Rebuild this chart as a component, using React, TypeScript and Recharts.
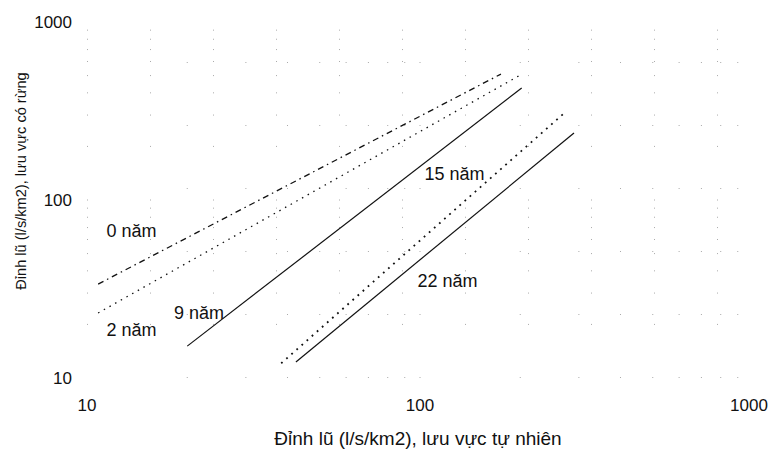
import { LineChart, Line, XAxis, YAxis, ReferenceLine, ReferenceDot, Label } from 'recharts';

// peak flow, natural catchment (x) vs forested catchment (y), log-log
const xTicks = [10, 100, 1000];
const yTicks = [10, 100, 1000];
const gridVals = [20, 30, 40, 50, 60, 70, 80, 90, 100, 200, 300, 400, 500, 600, 700, 800, 900];

const line0 = [{ x: 10.8, y: 33.7 }, { x: 175, y: 510 }];
const line2 = [{ x: 10.8, y: 23.2 }, { x: 198, y: 498 }];
const line9 = [{ x: 20, y: 15.1 }, { x: 202, y: 426 }];
const line15 = [{ x: 38.3, y: 12.1 }, { x: 269, y: 304 }];
const line22 = [{ x: 42.4, y: 12.3 }, { x: 290, y: 238 }];

const labelText = ['0 năm', '2 năm', '9 năm', '15 năm', '22 năm'];
const labelX = [13.6, 13.6, 21.7, 127, 121];
const labelY = [67.5, 18.6, 23.2, 140, 35.1];

const FONT = '"Liberation Sans", Arial, sans-serif';
const INK = '#111';

// last x tick sits right at the edge, nudge it in so it isn't clipped
const XTick = ({ x, y, payload }: any) => (
  <text
    x={payload.value === 1000 ? x - 4 : x}
    y={y}
    dy="0.71em"
    textAnchor="middle"
    fontSize={17}
    fill={INK}
    fontFamily={FONT}
  >
    {payload.value}
  </text>
);

export default function App() {
  return (
    <div style={{ width: 770, height: 453, background: '#fff', fontFamily: FONT }}>
      <style>{'body{margin:0}'}</style>
      <LineChart width={770} height={453} margin={{ top: 22, right: 17, bottom: 15, left: 27 }}>
        {gridVals.map((v) => (
          <ReferenceLine key={'gx' + v} x={v} stroke="#aaa" strokeDasharray="1 62" ifOverflow="hidden" />
        ))}
        {gridVals.map((v) => (
          <ReferenceLine key={'gy' + v} y={v} stroke="#aaa" strokeDasharray="1 62" ifOverflow="hidden" />
        ))}
        <XAxis
          dataKey="x"
          type="number"
          scale="log"
          domain={[10, 1000]}
          ticks={xTicks}
          allowDataOverflow
          axisLine={false}
          tickLine={false}
          tickSize={6}
          tickMargin={15}
          height={60}
          tick={<XTick />}
        >
          <Label
            content={() => (
              <text x={418} y={438} textAnchor="middle" dominantBaseline="central" fontSize={19} fill={INK} fontFamily={FONT}>
                Đỉnh lũ (l/s/km2), lưu vực tự nhiên
              </text>
            )}
          />
        </XAxis>
        <YAxis
          dataKey="y"
          type="number"
          scale="log"
          domain={[10, 1000]}
          ticks={yTicks}
          allowDataOverflow
          axisLine={false}
          tickLine={false}
          tickSize={6}
          tickMargin={9}
          width={60}
          tick={{ fontSize: 17, fill: INK, fontFamily: FONT }}
        >
          <Label
            content={() => (
              <text
                x={21}
                y={181}
                transform="rotate(-90 21 181)"
                textAnchor="middle"
                dominantBaseline="central"
                fontSize={14.6}
                fill={INK}
                fontFamily={FONT}
              >
                Đỉnh lũ (l/s/km2), lưu vực có rừng
              </text>
            )}
          />
        </YAxis>
        <Line data={line0} dataKey="y" stroke={INK} strokeWidth={1.3} strokeDasharray="6 4 1.5 4" dot={false} isAnimationActive={false} />
        <Line data={line2} dataKey="y" stroke={INK} strokeWidth={1.3} strokeDasharray="1.5 5" dot={false} isAnimationActive={false} />
        <Line data={line9} dataKey="y" stroke={INK} strokeWidth={1.2} dot={false} isAnimationActive={false} />
        <Line data={line15} dataKey="y" stroke={INK} strokeWidth={1.8} strokeDasharray="1.8 5" dot={false} isAnimationActive={false} />
        <Line data={line22} dataKey="y" stroke={INK} strokeWidth={1.2} dot={false} isAnimationActive={false} />
        {labelText.map((t, i) => (
          <ReferenceDot
            key={t}
            x={labelX[i]}
            y={labelY[i]}
            r={0}
            fill="none"
            stroke="none"
            label={{ value: t, position: 'center', fontSize: 18, fill: INK, fontFamily: FONT }}
          />
        ))}
      </LineChart>
    </div>
  );
}
